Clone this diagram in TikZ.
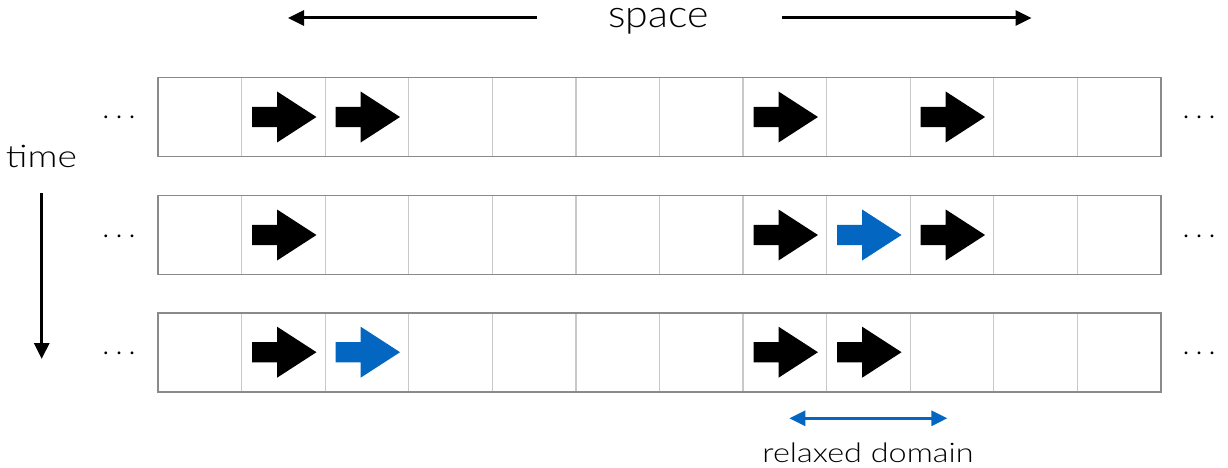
\documentclass[tikz,border=0pt]{standalone}
\usepackage{fontspec}
\setmainfont{Lato Light}
\usetikzlibrary{arrows.meta}
\definecolor{relaxblue}{RGB}{3,102,192}
\definecolor{outergray}{RGB}{138,138,138}
\definecolor{innergray}{RGB}{200,200,200}
\tikzset{
  cell/.style={draw=innergray, line width=1.2pt, minimum width=83.58pt, minimum height=79pt, inner sep=0pt, outer sep=0pt},
  rowframe/.style={draw=outergray, line width=1.8pt},
  spacetext/.style={font=\fontsize{38}{44}\selectfont, inner sep=0pt, anchor=base},
  timetext/.style={font=\fontsize{31}{36}\selectfont, inner sep=0pt, anchor=base},
  smalltext/.style={font=\fontsize{27}{30}\selectfont, inner sep=0pt, anchor=base},
  dotstext/.style={font=\fontsize{30}{34}\selectfont, inner sep=0pt, anchor=base},
  dirarrow/.style={line width=3pt, -{Triangle[length=16pt,width=15pt]}},
  domarrow/.style={draw=relaxblue, line width=3pt, {Triangle[length=16pt,width=15pt]}-{Triangle[length=16pt,width=15pt]}},
  rarrow/.pic={\fill (-32.2,-10.2) -- (-7.2,-10.2) -- (-7.2,-25.5) -- (32.2,0) -- (-7.2,25.5) -- (-7.2,10.2) -- (-32.2,10.2) -- cycle;}
}
\begin{document}
\begin{tikzpicture}[x=1pt,y=-1pt]
\useasboundingbox (0,0) rectangle (1228,468);
% rows of cells
\foreach \r/\y in {1/117,2/235,3/352.2}{
  \foreach \c in {1,...,12}{
    \node[cell] (r\r c\c) at ({158+83.58*(\c-0.5)},\y) {};
  }
  \draw[rowframe] (r\r c1.north west) rectangle (r\r c12.south east);
  \node[dotstext] (ldots\r) at (119,\y+2) {.\kern6pt.\kern6pt.};
  \node[dotstext] (rdots\r) at (1199,\y+2) {.\kern6pt.\kern6pt.};
}
% arrows in cells
\foreach \cl in {r1c2,r1c3,r1c8,r1c10,r2c2,r2c8,r2c10,r3c2,r3c8,r3c9}{
  \pic[black] at ([xshift=0.9pt]\cl) {rarrow};
}
\foreach \cl in {r2c9,r3c3}{
  \pic[relaxblue] at ([xshift=0.9pt]\cl) {rarrow};
}
% space
\node[spacetext] (space) at (658.5,28) {\scalebox{1.08}[1]{space}};
\coordinate (sl0) at (537,18);
\coordinate (sl1) at (288,18);
\coordinate (sr0) at (782,18);
\coordinate (sr1) at (1031.5,18);
\draw[dirarrow] (sl0) -- (sl1);
\draw[dirarrow] (sr0) -- (sr1);
% time
\node[timetext] (time) at (41.5,167.3) {\scalebox{1.2}[1]{time}};
\coordinate (t0) at (41.7,193);
\coordinate (t1) at (41.7,359);
\draw[dirarrow] (t0) -- (t1);
% relaxed domain
\coordinate (d0) at (789.3,418.3);
\coordinate (d1) at (947.3,418.3);
\draw[domarrow] (d0) -- (d1);
\node[smalltext] (relax) at (868,462.7) {\scalebox{1.2}[1]{relaxed domain}};
\end{tikzpicture}
\end{document}
